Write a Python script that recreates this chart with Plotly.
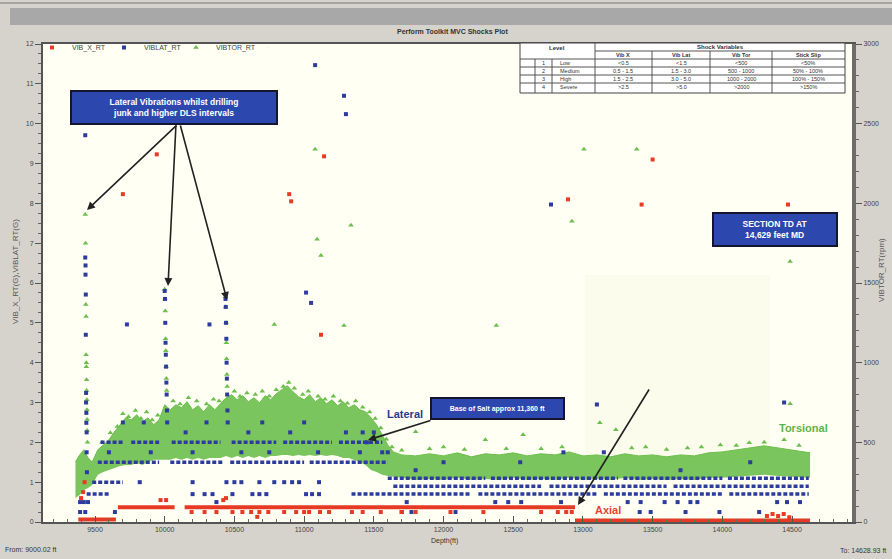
import plotly.graph_objects as go

# ---------------- DATA ----------------
x_tick_vals = [9500, 10000, 10500, 11000, 11500, 12000, 12500, 13000, 13500, 14000, 14500]
x_tick_text = ["9500", "10000", "10500", "11000", "11500", "12000", "12500", "13000", "13500", "14000", "14500"]
g_tick_vals = [0, 1, 2, 3, 4, 5, 6, 7, 8, 9, 10, 11, 12]
rpm_tick_vals = [0, 500, 1000, 1500, 2000, 2500, 3000]

# Axial vibration VIB_X_RT (G) - individual readings
axial_depth = [9400, 9415, 9425, 9970, 10010, 10420, 10440, 10664,
               10193, 10286, 10371, 10486, 10557, 10620, 10679, 10743, 10857, 10943, 11000, 11036,
               11114, 11179, 11343, 11420, 11550, 11700, 11800, 12050, 12286, 12700, 12820, 12880, 12920,
               14320, 14360, 14400, 14440, 14480,
               9700, 9943, 10893, 10907, 11143, 11121, 12893, 13421, 13500, 14471]
axial_g = [0.6, 0.75, 1.0, 0.55, 0.55, 0.55, 0.6, 0.13,
           0.25, 0.25, 0.25, 0.25, 0.25, 0.25, 0.25, 0.25, 0.25, 0.25, 0.25, 0.25,
           0.25, 0.25, 0.25, 0.25, 0.25, 0.25, 0.25, 0.25, 0.25, 0.25, 0.25, 0.25, 0.25,
           0.15, 0.2, 0.15, 0.2, 0.12,
           8.23, 9.23, 8.23, 8.05, 9.18, 4.7, 8.1, 7.97, 9.1, 7.97]
# Axial - continuous runs of readings (start depth, end depth, level)
axial_run_start = [9380, 9664, 10143, 12943]
axial_run_end = [9650, 10071, 12943, 14629]
axial_run_g = [0.06, 0.37, 0.37, 0.04]

# Lateral vibration VIBLAT_RT (G) - individual readings
lat_depth = [9430, 9430, 9432, 9432, 9434, 9434, 9436, 9436, 9438, 9438, 9440, 9440, 9442,
             10000, 10002, 10004, 10006, 10008, 10010, 10012, 10014, 10016, 10018,
             10436, 10438, 10440, 10442, 10444, 10446, 10448, 10450, 10452,
             9729, 10321, 11079, 11286, 11300, 11014, 11050, 12771, 14443, 13100,
             9393, 9430, 9643, 11700, 11770, 12086, 13407, 13486, 13736, 13979, 14264,
             9393, 9420, 9450, 10371, 11736, 12371, 12464, 12557, 12843, 13321, 13414, 13586,
             13679, 13771, 13821, 14393, 14464, 14557,
             10200, 10286, 10343, 10486, 10629, 10679, 10729, 11014, 11057, 11107,
             9821, 10200, 10443, 10500, 10550, 10679, 10786, 10857, 10914, 10964, 11107,
             9700, 9850, 10150, 10300, 10600, 10700, 10900, 11000, 11300, 11420, 11500,
             11560, 11600, 9600, 9900, 10200, 10550, 10750, 11100, 11400, 11450,
             12000, 12550, 12860, 13150, 13700, 14200, 11800]
lat_g = [9.71, 6.64, 6.44, 6.21, 5.71, 4.7, 3.24, 3.0, 2.74, 2.49, 2.25, 1.75, 1.25,
         5.8, 5.6, 5.0, 4.5, 4.2, 3.9, 3.5, 3.2, 2.8, 2.5,
         5.6, 5.4, 5.0, 4.6, 4.0, 3.6, 3.2, 2.8, 2.5,
         4.96, 4.96, 11.47, 10.7, 10.24, 5.76, 5.5, 7.97, 3.0, 2.95,
         0.25, 0.25, 0.25, 0.25, 0.25, 0.25, 0.25, 0.25, 0.25, 0.25, 0.25,
         0.5, 0.5, 0.5, 0.5, 0.5, 0.5, 0.5, 0.5, 0.5, 0.5, 0.5, 0.5,
         0.5, 0.5, 0.5, 0.5, 0.5, 0.5,
         0.7, 0.7, 0.7, 0.7, 0.7, 0.7, 0.7, 0.7, 0.7, 0.7,
         1.0, 1.0, 1.0, 1.0, 1.0, 1.0, 1.0, 1.0, 1.0, 1.0, 1.0,
         2.5, 2.5, 2.25, 2.5, 2.25, 2.5, 2.25, 2.5, 2.25, 2.25, 2.25,
         1.75, 1.75, 1.75, 1.75, 1.75, 1.75, 1.75, 1.75, 1.75, 2.0,
         1.5, 1.5, 1.75, 1.75, 1.3, 1.5, 1.3]
# Lateral - continuous runs of readings
lat_run_start = [9540, 9760, 10050, 10480, 10850, 11250,
                 9520, 10040, 10470, 11040,
                 9480, 9440,
                 11600, 12340, 13290, 14040,
                 11640, 12760, 13650,
                 11340, 12250, 13150, 14050]
lat_run_end = [9700, 9960, 10400, 10800, 11200, 11560,
               9960, 10420, 11000, 11600,
               9700, 9610,
               12300, 13250, 14000, 14620,
               12700, 13600, 14620,
               12200, 13100, 14000, 14620]
lat_run_g = [2.0, 2.0, 2.0, 2.0, 2.0, 2.0,
             1.5, 1.5, 1.5, 1.5,
             1.0, 0.7,
             1.1, 1.1, 1.1, 1.1,
             0.9, 0.9, 0.9,
             0.7, 0.7, 0.7, 0.7]

# Torsional vibration VIBTOR_RT (rpm) - dense band (low / high envelope)
tor_band_depth = [9360, 9390, 9420, 9450, 9480, 9520, 9560, 9600, 9640, 9680, 9720, 9760, 9800, 9840,
                  9880, 9920, 9960, 10000, 10040, 10080, 10120, 10160, 10200, 10240, 10280, 10320,
                  10360, 10400, 10440, 10480, 10520, 10560, 10600, 10640, 10680, 10720, 10760, 10800,
                  10840, 10880, 10920, 10960, 11000, 11040, 11080, 11120, 11160, 11200, 11240, 11280,
                  11320, 11360, 11400, 11440, 11480, 11520, 11560, 11600, 11640, 11700, 11800, 11900,
                  12000, 12100, 12200, 12300, 12400, 12500, 12600, 12700, 12800, 12900, 13000, 13100,
                  13200, 13300, 13400, 13500, 13600, 13700, 13800, 13900, 14000, 14100, 14200, 14300,
                  14400, 14500, 14600, 14629]
tor_band_low = [151, 170, 201, 214, 233, 296, 314, 327, 340, 352, 358, 358, 371, 358,
                377, 390, 390, 390, 390, 402, 390, 402, 390, 402, 390, 402,
                402, 402, 415, 402, 415, 402, 415, 402, 415, 402, 415, 415,
                421, 421, 415, 421, 415, 421, 415, 421, 415, 421, 415, 402,
                402, 390, 377, 358, 327, 314, 296, 289, 283, 277, 264, 270,
                264, 277, 264, 270, 264, 277, 264, 270, 264, 277, 264, 270,
                264, 277, 264, 270, 264, 270, 264, 277, 277, 283, 289, 296,
                289, 283, 277, 277]
tor_band_high = [377, 421, 453, 402, 377, 453, 484, 516, 566, 610, 654, 641, 673, 629,
                 654, 610, 641, 736, 704, 736, 717, 755, 704, 730, 692, 736,
                 704, 742, 780, 799, 767, 792, 755, 780, 748, 792, 767, 805,
                 830, 855, 818, 786, 767, 799, 755, 780, 742, 767, 730, 755,
                 717, 736, 704, 692, 654, 610, 547, 484, 440, 421, 415, 428,
                 415, 434, 409, 428, 421, 434, 415, 428, 421, 440, 415, 421,
                 409, 428, 415, 421, 409, 421, 415, 434, 440, 453, 465, 478,
                 465, 453, 440, 434]

# Torsional - individual readings
tor_depth = [9430, 9432, 9434, 9436, 9436, 9438, 9438, 9440, 9440, 9442, 9442, 9444, 9444, 9446,
             10000, 10002, 10004, 10006, 10008, 10010, 10012, 10014,
             10436, 10438, 10440, 10442, 10444, 10446, 10448,
             11079, 11093, 11121, 11336, 11286, 10786, 12379, 12921, 13007, 13386, 14486, 14486,
             9550, 9610, 9660, 9700, 9740, 9790, 9830, 9870, 9910, 9950, 10060, 10110, 10170,
             10230, 10300, 10350, 10390, 10500, 10540, 10590, 10650, 10700, 10750, 10800, 10850,
             10890, 10930, 10990, 11030, 11100, 11150, 11210, 11260, 11310, 11370, 11420, 11470,
             11510, 11550, 11590, 11630,
             11700, 11800, 11900, 12000, 12150, 12300, 12450, 12571, 12700, 12850, 13121, 13236,
             13350, 13450, 13600, 13750, 13850, 13986, 14100, 14193, 14300, 14443, 14550]
tor_rpm = [1930, 1750, 1365, 1290, 1050, 1000, 975, 893, 825, 768, 705, 643, 575, 500,
           1460, 1400, 1325, 1150, 1075, 975, 900, 825,
           1415, 1350, 1250, 1125, 1025, 925, 850,
           2340, 1775, 1673, 1862, 1233, 1239, 1233, 1887, 2340, 2340, 1635, 742,
           500, 560, 600, 680, 660, 700, 650, 690, 640, 670, 760, 740, 780,
           760, 740, 770, 760, 820, 790, 810, 800, 820, 790, 830, 850,
           875, 840, 800, 820, 790, 770, 790, 760, 745, 760, 720, 690,
           650, 590, 520, 470,
           450, 566, 460, 470, 455, 516, 460, 547, 460, 470, 623, 579,
           465, 470, 455, 465, 470, 484, 480, 497, 500, 516, 480]

# ---------------- STYLE ----------------
RED = "#e63a25"
BLUE = "#2d3c9c"
GREEN = "#6cbf4d"
FONT = "Liberation Sans"
W, H = 892, 559
L, R, T, B = 43, 852, 44, 522


def ppx(x):
    return (x - L) / (R - L)


def ppy(y):
    return (B - y) / (B - T)


def runs(start, end, val):
    xs, ys = [], []
    for s, e, v in zip(start, end, val):
        xs += [s, e, None]
        ys += [v, v, None]
    return xs, ys


fig = go.Figure()

# torsional band on rpm axis (y), drawn first (below)
fig.add_trace(go.Scatter(x=tor_band_depth, y=tor_band_low, mode="lines", line=dict(width=0, color=GREEN),
                         yaxis="y", showlegend=False, hoverinfo="skip"))
fig.add_trace(go.Scatter(x=tor_band_depth, y=tor_band_high, mode="lines", line=dict(width=1, color=GREEN),
                         fill="tonexty", fillcolor="rgba(108,191,77,0.9)", yaxis="y",
                         showlegend=False, hoverinfo="skip"))
fig.add_trace(go.Scatter(x=tor_depth, y=tor_rpm, mode="markers", name="VIBTOR_RT", yaxis="y",
                         marker=dict(symbol="triangle-up", size=5, color=GREEN), legendrank=3))

# lateral & axial on G axis (y2, overlay, drawn above)
lx, ly = runs(lat_run_start, lat_run_end, lat_run_g)
fig.add_trace(go.Scatter(x=lx, y=ly, mode="lines", yaxis="y2", showlegend=False, hoverinfo="skip",
                         line=dict(color=BLUE, width=3.5, dash="4px,2px")))
ax_, ay_ = runs(axial_run_start, axial_run_end, axial_run_g)
fig.add_trace(go.Scatter(x=ax_, y=ay_, mode="lines", yaxis="y2", showlegend=False, hoverinfo="skip",
                         line=dict(color=RED, width=4)))
fig.add_trace(go.Scatter(x=lat_depth, y=lat_g, mode="markers", name="VIBLAT_RT", yaxis="y2",
                         marker=dict(symbol="square", size=4, color=BLUE), legendrank=2))
fig.add_trace(go.Scatter(x=axial_depth, y=axial_g, mode="markers", name="VIB_X_RT", yaxis="y2",
                         marker=dict(symbol="square", size=4, color=RED), legendrank=1))
# empty spacer entry so the last legend label is not clipped
fig.add_trace(go.Scatter(x=[None], y=[None], mode="markers", name=" ", yaxis="y2",
                         marker=dict(size=1, opacity=0), legendrank=4, hoverinfo="skip"))

axis_font = dict(family=FONT, size=7, color="#444")

fig.update_layout(
    width=W, height=H,
    margin=dict(l=L, r=W - R, t=T, b=H - B, pad=0, autoexpand=False),
    paper_bgcolor="#d6d3cd",
    plot_bgcolor="#fffff4",
    font=dict(family=FONT, size=7, color="#333"),
    showlegend=True,
    legend=dict(orientation="h", x=ppx(32), y=ppy(33), xanchor="left", yanchor="top",
                font=dict(family=FONT, size=7, color="#444"), bgcolor="rgba(0,0,0,0)",
                entrywidth=27, entrywidthmode="pixels", itemwidth=30, tracegroupgap=0,
                traceorder="normal"),
    xaxis=dict(range=[9127, 14930], tickvals=x_tick_vals, ticktext=x_tick_text, automargin=False,
               showgrid=False, zeroline=False, showline=True, linecolor="#555", linewidth=2, mirror=True,
               ticks="inside", ticklen=6, tickcolor="#555", tickfont=axis_font,
               minor=dict(dtick=100, ticks="inside", ticklen=3, tickcolor="#666")),
    yaxis=dict(range=[0, 3000], side="right", tickvals=rpm_tick_vals, showgrid=False, zeroline=False,
               automargin=False,
               showline=True, linecolor="#6d6d6d", linewidth=4, ticks="outside", ticklen=6,
               tickcolor="#555", tickfont=axis_font,
               minor=dict(dtick=100, ticks="outside", ticklen=3, tickcolor="#666")),
    yaxis2=dict(range=[0, 12], side="left", overlaying="y", tickvals=g_tick_vals, showgrid=False,
                automargin=False,
                zeroline=False, showline=True, linecolor="#555", linewidth=2, ticks="outside",
                ticklen=6, tickcolor="#555", tickfont=axis_font,
                minor=dict(dtick=0.25, ticks="outside", ticklen=3, tickcolor="#666")),
)

shapes = []
# window title band
shapes.append(dict(type="rect", xref="paper", yref="paper", x0=ppx(10), x1=ppx(892), y0=ppy(25), y1=ppy(8),
                   fillcolor="#a8a8a8", line=dict(width=0), layer="below"))
shapes.append(dict(type="line", xref="paper", yref="paper", x0=ppx(0), x1=ppx(892), y0=ppy(3), y1=ppy(3),
                   line=dict(color="#777", width=1)))
# lighter patch inside plot
shapes.append(dict(type="rect", xref="paper", yref="paper", x0=ppx(585), x1=ppx(770), y0=ppy(470), y1=ppy(275),
                   fillcolor="#fbfcec", line=dict(width=0), layer="below"))

# shock level table
tl, tr, tt, tb = 520, 845, 43, 93


def hline(y, x0, x1):
    shapes.append(dict(type="line", xref="paper", yref="paper", x0=ppx(x0), x1=ppx(x1), y0=ppy(y), y1=ppy(y),
                       line=dict(color="#555", width=1)))


def vline(x, y0, y1):
    shapes.append(dict(type="line", xref="paper", yref="paper", x0=ppx(x), x1=ppx(x), y0=ppy(y0), y1=ppy(y1),
                       line=dict(color="#555", width=1)))


shapes.append(dict(type="rect", xref="paper", yref="paper", x0=ppx(tl), x1=ppx(tr), y0=ppy(tb), y1=ppy(tt),
                   fillcolor="white", line=dict(color="#444", width=1)))
hline(51, 595, tr)
for yy in [59, 67, 75, 83]:
    hline(yy, tl, tr)
vline(595, tt, tb)
for xx in [652, 710, 772]:
    vline(xx, 51, tb)
for xx in [535, 552]:
    vline(xx, 59, tb)

annotations = []


def txt(x, y, s, size=7, color="#333", bold=False, xanchor="center", angle=0, family=FONT):
    annotations.append(dict(xref="paper", yref="paper", x=ppx(x), y=ppy(y), text=("<b>%s</b>" % s) if bold else s,
                            showarrow=False, xanchor=xanchor, yanchor="middle", textangle=angle,
                            font=dict(family=family, size=size, color=color)))


table_cols = ["Vib X", "Vib Lat", "Vib Tor", "Stick Slip"]
table_levels = ["1", "2", "3", "4"]
table_names = ["Low", "Medium", "High", "Severe"]
table_vals = [["<0.5", "<1.5", "<500", "<50%"],
              ["0.5 - 1.5", "1.5 - 3.0", "500 - 1000", "50% - 100%"],
              ["1.5 - 2.5", "3.0 - 5.0", "1000 - 2000", "100% - 150%"],
              [">2.5", ">5.0", ">2000", ">150%"]]
col_cx = [623, 681, 741, 808]
txt(557, 48, "Level", size=6, bold=True)
txt(720, 47, "Shock Variables", size=6, bold=True)
for c, s in zip(col_cx, table_cols):
    txt(c, 55, s, size=5.5, bold=True)
for i, yy in enumerate([63, 71, 79, 87]):
    txt(543, yy, table_levels[i], size=5.5)
    txt(558, yy, table_names[i], size=5.5, xanchor="left")
    for c, s in zip(col_cx, table_vals[i]):
        txt(c, yy, s, size=5.5)

# titles / labels
txt(452, 31, "Perform Toolkit MVC Shocks Plot", size=7, bold=True, color="#333")
txt(15, 272, "VIB_X_RT(G),VIBLAT_RT(G)", size=8, color="#555", angle=-90)
txt(881, 270, "VIBTOR_RT(rpm)", size=8, color="#555", angle=-90)
txt(444, 541, "Depth(ft)", size=7, color="#333")
txt(3, 549, "From: 9000.02 ft", size=7, color="#333", xanchor="left")
txt(888, 550, "To: 14628.93 ft", size=7, color="#333", xanchor="right")
txt(405, 414, "Lateral", size=11, bold=True, color="#2c3a8c")
txt(803, 428, "Torsional", size=11, bold=True, color="#5db54a")
txt(608, 510, "Axial", size=11, bold=True, color="#e8462b")


def box(cx, cy, w, h, s, size):
    annotations.append(dict(xref="paper", yref="paper", x=ppx(cx), y=ppy(cy), text="<b>%s</b>" % s,
                            showarrow=False, xanchor="center", yanchor="middle", width=w, height=h,
                            bgcolor="#2c47ad", bordercolor="#151530", borderwidth=2, borderpad=0,
                            font=dict(family=FONT, size=size, color="white")))


box(174, 107, 204, 31, "Lateral Vibrations whilst drilling<br>junk and higher DLS intervals", 8.5)
box(497, 408, 131, 19, "Base of Salt approx 11,360 ft", 7)
box(775, 230, 122, 31, "SECTION TD AT<br>14,629 feet MD", 8.5)


def arrow(tipx, tipy, tailx, taily):
    annotations.append(dict(xref="paper", yref="paper", x=ppx(tipx), y=ppy(tipy), ax=tailx - tipx, ay=taily - tipy,
                            text="", showarrow=True, arrowhead=2, arrowsize=1, arrowwidth=1.6,
                            arrowcolor="#222"))


arrow(87, 210, 178, 124)
arrow(168, 286, 176, 124)
arrow(227, 300, 180, 124)
arrow(368, 440, 432, 420)
arrow(578, 505, 650, 388)

fig.update_layout(shapes=shapes, annotations=annotations)
fig.write_html("out.html", config={"displayModeBar": False},
               post_script="document.body.style.margin='0';document.body.style.overflow='hidden';")
